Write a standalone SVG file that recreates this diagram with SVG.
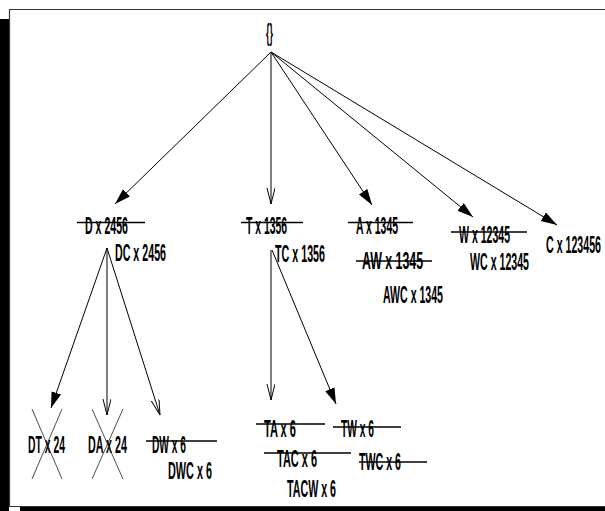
<svg xmlns="http://www.w3.org/2000/svg" width="605" height="511" viewBox="0 0 605 511">
<defs>
<style>
text{font-family:"Liberation Sans",Arial,sans-serif;font-weight:bold;font-size:23px;fill:#000}
.e{stroke:#000;stroke-width:1;fill:none}
.s{stroke:#000;stroke-width:1.4}
.x{stroke:#222;stroke-width:0.8}
</style>
<marker id="af" markerUnits="userSpaceOnUse" markerWidth="18" markerHeight="12" refX="16" refY="5" orient="auto"><path d="M0,0 L16,5 L0,10 z" fill="#000"/></marker>
<marker id="ao" markerUnits="userSpaceOnUse" markerWidth="18" markerHeight="12" refX="16" refY="4" orient="auto"><path d="M0,0 L16,4 L0,8" fill="none" stroke="#000" stroke-width="1"/></marker>
</defs>
<rect width="605" height="511" fill="#fff"/>
<g id="frame">
<rect x="0" y="19" width="9" height="492" fill="#000"/>
<rect x="20" y="507" width="585" height="4" fill="#000"/>
<path d="M610,9.5 H9.5 V506.5 H610" fill="none" stroke="#333" stroke-width="1.2"/>
</g>
<g id="connectors">
<line class="e" x1="271" y1="52" x2="115" y2="204" marker-end="url(#af)"/>
<line class="e" x1="271" y1="52" x2="271" y2="204" marker-end="url(#ao)"/>
<line class="e" x1="271" y1="52" x2="372" y2="205" marker-end="url(#af)"/>
<line class="e" x1="271" y1="52" x2="473" y2="217" marker-end="url(#af)"/>
<line class="e" x1="271" y1="52" x2="557" y2="225" marker-end="url(#af)"/>
<line class="e" x1="107" y1="248" x2="51" y2="408" marker-end="url(#af)"/>
<line class="e" x1="107" y1="248" x2="107" y2="415" marker-end="url(#ao)"/>
<line class="e" x1="107" y1="248" x2="160" y2="415" marker-end="url(#ao)"/>
<line class="e" x1="271" y1="250" x2="271" y2="400" marker-end="url(#ao)"/>
<line class="e" x1="272" y1="250" x2="336" y2="404" marker-end="url(#af)"/>
</g>
<g id="n-root"><text x="266" y="41" textLength="7" lengthAdjust="spacingAndGlyphs">{}</text></g>
<g id="n-D"><text x="85" y="234" textLength="43" lengthAdjust="spacingAndGlyphs">D x 2456</text><line class="s" x1="77" y1="222.5" x2="145" y2="222.5"/></g>
<g id="n-DC"><text x="115" y="261" textLength="51" lengthAdjust="spacingAndGlyphs">DC x 2456</text></g>
<g id="n-T"><text x="246" y="234" textLength="41" lengthAdjust="spacingAndGlyphs">T x 1356</text><line class="s" x1="241" y1="222.5" x2="303" y2="222.5"/></g>
<g id="n-TC"><text x="275" y="262" textLength="50" lengthAdjust="spacingAndGlyphs">TC x 1356</text></g>
<g id="n-A"><text x="356" y="234" textLength="42" lengthAdjust="spacingAndGlyphs">A x 1345</text><line class="s" x1="348" y1="222.5" x2="413" y2="222.5"/></g>
<g id="n-AW"><text x="362" y="269" textLength="61" lengthAdjust="spacingAndGlyphs">AW x 1345</text><line class="s" x1="356" y1="261" x2="432" y2="261"/></g>
<g id="n-AWC"><text x="383" y="303" textLength="60" lengthAdjust="spacingAndGlyphs">AWC x 1345</text></g>
<g id="n-W"><text x="459" y="243" textLength="51" lengthAdjust="spacingAndGlyphs">W x 12345</text><line class="s" x1="451" y1="232" x2="527" y2="232"/></g>
<g id="n-WC"><text x="470" y="270" textLength="59" lengthAdjust="spacingAndGlyphs">WC x 12345</text></g>
<g id="n-C"><text x="546" y="253" textLength="55" lengthAdjust="spacingAndGlyphs">C x 123456</text></g>
<g id="n-DT"><text x="28" y="453" textLength="37" lengthAdjust="spacingAndGlyphs">DT x 24</text><line class="x" x1="32" y1="409" x2="62" y2="479"/><line class="x" x1="62" y1="409" x2="32" y2="479"/></g>
<g id="n-DA"><text x="88" y="453" textLength="39" lengthAdjust="spacingAndGlyphs">DA x 24</text><line class="x" x1="92" y1="409" x2="123" y2="479"/><line class="x" x1="123" y1="409" x2="92" y2="479"/></g>
<g id="n-DW"><text x="152" y="453" textLength="34" lengthAdjust="spacingAndGlyphs">DW x 6</text><line class="s" x1="146" y1="441" x2="217" y2="441"/></g>
<g id="n-DWC"><text x="168" y="479" textLength="44" lengthAdjust="spacingAndGlyphs">DWC x 6</text></g>
<g id="n-TA"><text x="264" y="437" textLength="32" lengthAdjust="spacingAndGlyphs">TA x 6</text><line class="s" x1="256" y1="424" x2="325" y2="424"/></g>
<g id="n-TW"><text x="341" y="437" textLength="33" lengthAdjust="spacingAndGlyphs">TW x 6</text><line class="s" x1="333" y1="427" x2="401" y2="427"/></g>
<g id="n-TAC"><text x="277" y="467" textLength="40" lengthAdjust="spacingAndGlyphs">TAC x 6</text><line class="s" x1="264" y1="453" x2="351" y2="453"/></g>
<g id="n-TWC"><text x="359" y="470" textLength="42" lengthAdjust="spacingAndGlyphs">TWC x 6</text><line class="s" x1="359" y1="462" x2="427" y2="462"/></g>
<g id="n-TACW"><text x="287" y="497" textLength="49" lengthAdjust="spacingAndGlyphs">TACW x 6</text></g>
</svg>
